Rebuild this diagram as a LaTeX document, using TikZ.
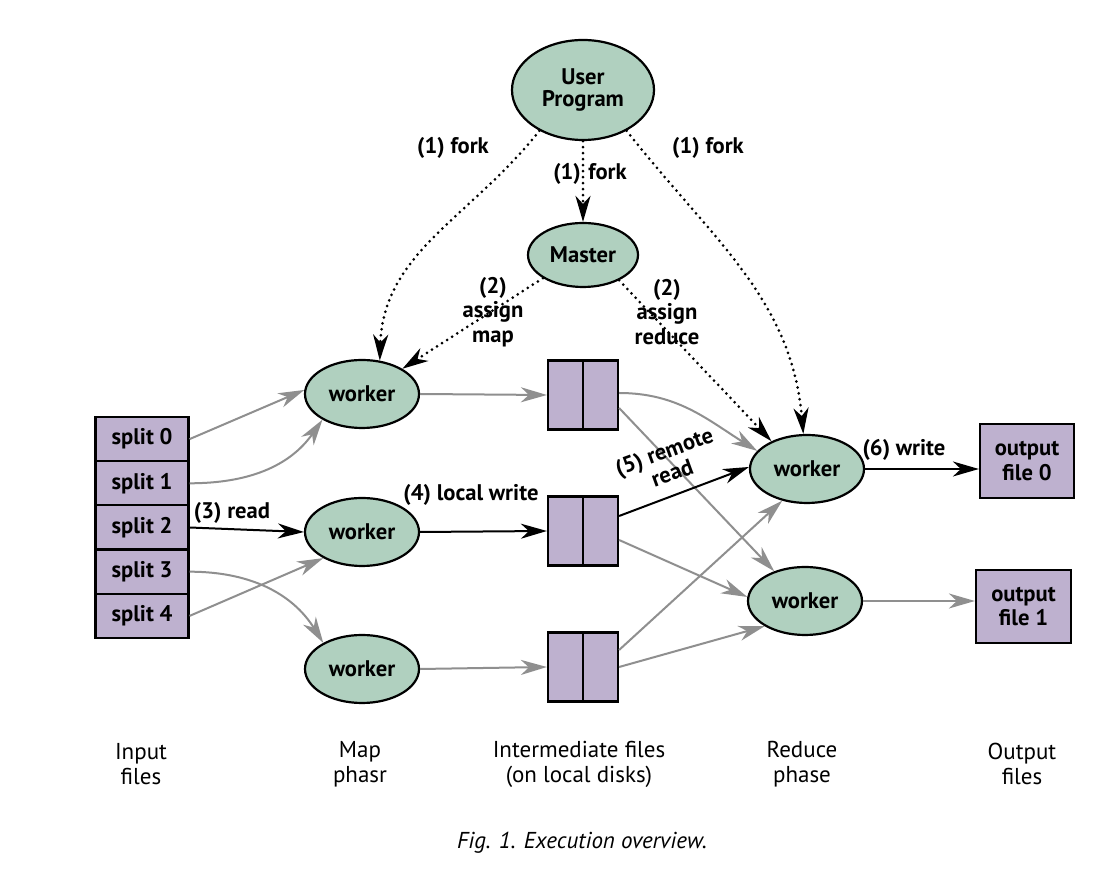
\documentclass[tikz,border=0pt]{standalone}
\usepackage{fontspec}
\setmainfont{PT Sans}
\usetikzlibrary{shapes.geometric,arrows.meta,calc}
\definecolor{wfill}{HTML}{B0D0BF}
\definecolor{bfill}{HTML}{BEB1CF}
\definecolor{lgray}{HTML}{8F8F8F}
\tikzset{
  wk/.style={ellipse, draw=black, line width=1.1pt, fill=wfill, inner sep=0pt, minimum width=57pt, minimum height=34pt, align=center},
  bx/.style={rectangle, draw=black, line width=1.1pt, fill=bfill, inner sep=0pt, align=center},
  tipk/.style={-{Stealth[length=13pt,width=7.5pt,inset=4pt]}},
  garr/.style={draw=lgray, line width=1pt, tipk},
  barr/.style={draw=black, line width=1pt, tipk},
  fk/.style={draw=black, line width=1.5pt, dash pattern=on 0pt off 3pt, line cap=round, tipk},
  lbl/.style={inner sep=0pt, align=center},
  blbl/.style={inner sep=0pt, align=center, font=\fontsize{11.5}{12.5}\selectfont\mdseries}
}
\begin{document}
\begin{tikzpicture}[x=0.5pt,y=-0.5pt, font=\fontsize{11.3}{12.3}\selectfont\bfseries]
\useasboundingbox[fill=white] (0,0) rectangle (1120,870);

% nodes
\node[wk, minimum width=71pt, minimum height=50pt, font=\fontsize{11.3}{11}\selectfont\bfseries] (up) at (583,90) {User\\Program};
\node[wk, minimum width=55pt, minimum height=32pt] (ms) at (583,255) {Master};
\node[wk] (w1) at (362,394) {worker};
\node[wk] (w2) at (362,532) {worker};
\node[wk] (w3) at (362,669) {worker};
\node[wk] (r1) at (807,469) {worker};
\node[wk] (r2) at (805,601) {worker};

\foreach \i/\yy in {0/439.1,1/483.3,2/527.5,3/571.7,4/615.9}{
  \node[bx, minimum width=46.5pt, minimum height=22.1pt] (s\i) at (142,\yy) {split \i};
}
\foreach \i/\yy in {1/395,2/531,3/667}{
  \node[bx, minimum width=35pt, minimum height=34.5pt] (f\i) at (583,\yy) {};
  \draw[line width=1.1pt] (f\i.north) -- (f\i.south);
}
\node[bx, minimum width=47pt, minimum height=37pt] (o0) at (1027,461) {output\\file 0};
\node[bx, minimum width=47.5pt, minimum height=36.5pt] (o1) at (1023.5,606.5) {output\\file 1};

% fork / assign
\draw[fk] (up.-137) to[out=-128, in=88] (w1.62);
\draw[fk] (up.south) -- (ms.north);
\draw[fk] (up.-43) to[out=-52, in=95] (r1.96);
\draw[fk] (ms.210) -- (w1.32);
\draw[fk] (ms.325) -- (r1.142);
\node[lbl] (lf1) at (453,148) {(1) fork};
\node[lbl] (lf2) at (590,174) {(1)\,\,fork};
\node[lbl] (lf3) at (708,148) {(1) fork};
\node[lbl] (la1) at (493,312) {(2)\\assign\\map};
\node[lbl] (la2) at (667,312) {(2)\\assign\\reduce};

% input -> map
\draw[garr] (s0.east) -- (w1.176);
\draw[garr] (s1.east) to[out=0, in=235] (w1.213);
\draw[barr] (s2.east) -- (w2.west);
\draw[garr] (s3.east) to[out=0, in=122] (w3.146);
\draw[garr] (s4.east) -- (w2.214);
\node[lbl] (l3) at (232,513) {(3) read};

% map -> intermediate
\draw[garr] (w1.east) -- (f1.west);
\draw[barr] (w2.east) -- (f2.west);
\draw[garr] (w3.east) -- (f3.west);
\node[lbl] (l4) at (471,495) {(4) local write};

% intermediate -> reduce
\draw[garr] ([yshift=1pt]f1.east) to[out=0, in=148] (r1.160);
\draw[garr] ([yshift=-6.5pt]f1.east) -- (r2.136);
\draw[barr] ([yshift=7.5pt]f2.east) -- (r1.178);
\draw[garr] ([yshift=-4.5pt]f2.east) -- (r2.176);
\draw[garr] ([yshift=8.5pt]f3.east) -- (r1.-128);
\draw[garr] ([yshift=0pt]f3.east) -- (r2.-148);
\node[lbl, rotate=20, font=\fontsize{11.3}{11.5}\selectfont\bfseries] (l5) at (668,462) {(5) remote\\read};

% reduce -> output
\draw[barr] (r1.east) -- (o0.west |- r1.east);
\draw[garr] (r2.east) -- (o1.west |- r2.east);
\node[lbl] (l6) at (904,450) {(6) write};

% bottom labels
\node[blbl] (b1) at (141,764) {Input\\files};
\node[blbl] (b2) at (360,764) {Map\\phasr};
\node[blbl] (b3) at (579,764) {Intermediate files\\(on local disks)};
\node[blbl] (b4) at (802,764) {Reduce\\phase};
\node[blbl] (b5) at (1022,764) {Output\\files};
\node[inner sep=0pt, font=\fontsize{11.5}{12.5}\selectfont\mdseries\itshape] (cap) at (582,843) {Fig. 1. Execution overview.};
\end{tikzpicture}
\end{document}
